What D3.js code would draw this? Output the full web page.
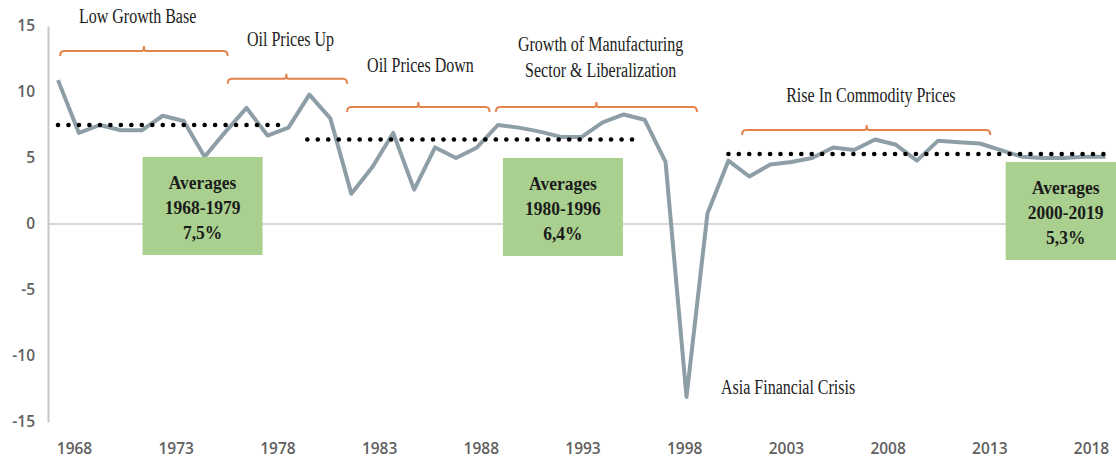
<!DOCTYPE html>
<html lang="en">
<head>
<meta charset="UTF-8">
<title>GDP growth 1968-2018</title>
<style>
  * { margin: 0; padding: 0; box-sizing: border-box; }
  body { background: #fff; width: 1116px; height: 458px; overflow: hidden; }
  svg { display: block; }
  .tick text { font-family: 'Open Sans', sans-serif; font-size: 15.5px; font-weight: 600; fill: #5f5f5f; }
  .note { font-family: 'Liberation Serif', serif; font-size: 20px; fill: #222; }
  .box text { font-family: 'Liberation Serif', serif; font-size: 19px; font-weight: 700; fill: #1b1b1b; }
</style>
</head>
<body>
<svg width="1116" height="458"></svg>
<script src="https://d3js.org/d3.v7.min.js"></script>
<script>
// Annual growth, %
const years = d3.range(1968, 2019);
const growth = [
  10.9, 6.9, 7.5, 7.1, 7.1, 8.2, 7.8, 5.1, 7.0, 8.8,
  6.7, 7.3, 9.8, 8.0, 2.3, 4.3, 6.9, 2.6, 5.8, 5.0,
  5.8, 7.5, 7.3, 7.0, 6.6, 6.6, 7.7, 8.3, 7.9, 4.7,
  -13.1, 0.8, 4.8, 3.6, 4.5, 4.7, 5.0, 5.8, 5.6, 6.4,
  6.0, 4.8, 6.3, 6.2, 6.1, 5.6, 5.1, 5.0, 5.0, 5.1,
  5.1
];
const tickYears = [1968, 1973, 1978, 1983, 1988, 1993, 1998, 2003, 2008, 2013, 2018];
const tickValues = [-15, -10, -5, 0, 5, 10, 15];

// Period averages: [from, to, value]
const averages = [
  [1968, 1978.5, 7.5],
  [1979.9, 1995.4, 6.4],
  [2000, 2017.9, 5.3]
];
const avgBoxes = [
  { lines: ["Averages", "1968-1979", "7,5%"], year: 1974.9, top: 5.08 },
  { lines: ["Averages", "1980-1996", "6,4%"], year: 1992.1, top: 5.0 },
  { lines: ["Averages", "2000-2019", "5,3%"], year: 2016.1, top: 4.7 }
];

// Period brackets: [from, to, middle, level]
const brackets = [
  [1968.1, 1976.1, 1972.1, 13.1],
  [1976.1, 1981.8, 1978.9, 11.0],
  [1981.8, 1988.6, 1985.2, 8.86],
  [1988.9, 1998.5, 1993.7, 8.86],
  [2000.65, 2012.5, 2006.6, 7.12]
];
const notes = [
  ["Low Growth Base", 1971.8, 15.2],
  ["Oil Prices Up", 1979.1, 13.5],
  ["Oil Prices Down", 1985.3, 11.5],
  ["Growth of Manufacturing", 1993.9, 13.1],
  ["Sector & Liberalization", 1993.9, 11.1],
  ["Rise In Commodity Prices", 2006.8, 9.24],
  ["Asia Financial Crisis", 2002.85, -12.9]
];

const svg = d3.select('svg');
const x = d3.scaleLinear().domain([1968, 2018]).range([58, 1105.5]);
const xLab = d3.scaleLinear().domain([1968, 2018]).range([74, 1091]);
const y = d3.scaleLinear().domain([-15, 15]).range([422, 26]);
const axisX = 48;

// zero line
svg.append('line')
  .attr('x1', axisX).attr('x2', 1116)
  .attr('y1', y(0)).attr('y2', y(0))
  .attr('stroke', '#d9d9d9').attr('stroke-width', 2);

// y axis
const gy = svg.append('g').attr('transform', `translate(${axisX},0)`)
  .call(d3.axisLeft(y).tickValues(tickValues).tickSize(0).tickPadding(13).tickFormat(d => String(d)));
gy.select('.domain').attr('stroke', '#c8c8c8').attr('stroke-width', 2);

// x labels
const gx = svg.append('g').attr('transform', 'translate(0,448)')
  .call(d3.axisBottom(xLab).tickValues(tickYears).tickSize(0).tickFormat(d => String(d)));
gx.select('.domain').remove();
gx.selectAll('text').attr('y', 0).attr('dy', '0.36em');

// series line
svg.append('path')
  .datum(years.map((yr, i) => [yr, growth[i]]))
  .attr('fill', 'none')
  .attr('stroke', '#8e9ea7')
  .attr('stroke-width', 4)
  .attr('stroke-linejoin', 'round')
  .attr('d', d3.line().x(d => x(d[0])).y(d => y(d[1])));

// dotted average lines
averages.forEach(([a, b, v]) => {
  const x0 = x(a), x1 = x(b);
  const n = Math.round((x1 - x0) / 10.4);
  svg.append('g').selectAll('circle')
    .data(d3.range(n + 1)).enter().append('circle')
    .attr('cx', i => x0 + (x1 - x0) * i / n)
    .attr('cy', y(v))
    .attr('r', 2.3)
    .attr('fill', '#000');
});

// brackets
svg.append('g').selectAll('path')
  .data(brackets).enter().append('path')
  .attr('fill', 'none')
  .attr('stroke', '#e5814a')
  .attr('stroke-width', 2)
  .attr('d', ([a, b, m, v]) => {
    const x0 = x(a), x1 = x(b), xm = x(m), yy = y(v);
    return `M${x0},${yy + 5} Q${x0},${yy} ${x0 + 4},${yy} L${xm - 2},${yy} Q${xm},${yy} ${xm},${yy - 5} `
      + `Q${xm},${yy} ${xm + 2},${yy} L${x1 - 4},${yy} Q${x1},${yy} ${x1},${yy + 5}`;
  });

// text notes (condensed serif)
notes.forEach(([t, yr, v]) => {
  svg.append('g').attr('transform', `translate(${x(yr)},${y(v)})`)
    .append('text').attr('class', 'note')
    .attr('text-anchor', 'middle')
    .attr('transform', 'scale(0.8,1)')
    .text(t);
});

// average boxes
const box = svg.selectAll('g.box')
  .data(avgBoxes).enter().append('g').attr('class', 'box')
  .attr('transform', d => `translate(${x(d.year)},${y(d.top)})`);
box.append('rect')
  .attr('x', -60).attr('y', 0)
  .attr('width', 120).attr('height', 98)
  .attr('fill', '#a9d08e');
box.selectAll('text')
  .data(d => d.lines).enter().append('text')
  .attr('text-anchor', 'middle')
  .attr('transform', (d, i) => `translate(0,${32 + i * 25}) scale(0.92,1)`)
  .text(d => d);
</script>
</body>
</html>
